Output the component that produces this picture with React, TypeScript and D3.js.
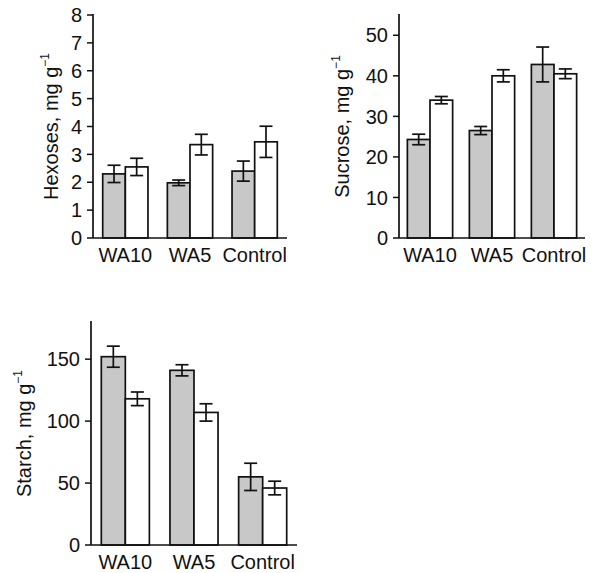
import React from 'react';
import * as d3 from 'd3';

const groups = ['WA10', 'WA5', 'Control'];
const series = ['gray', 'white'];

const hexMean = [[2.3, 2.55], [1.98, 3.35], [2.4, 3.45]];
const hexErr = [[0.31, 0.31], [0.1, 0.37], [0.36, 0.56]];

const sucMean = [[24.3, 34.0], [26.5, 40.0], [42.8, 40.5]];
const sucErr = [[1.3, 0.9], [1.0, 1.5], [4.3, 1.2]];

const staMean = [[152, 118], [141, 107], [55, 46]];
const staErr = [[8.5, 5.5], [4.5, 7], [11, 5.5]];

const hexTicks = [0, 1, 2, 3, 4, 5, 6, 7, 8];
const sucTicks = [0, 10, 20, 30, 40, 50];
const staTicks = [0, 50, 100, 150];

const fills = ['#c8c8c8', '#ffffff'];
const font = 'Liberation Sans, Arial, sans-serif';
const ink = '#111';

type PanelProps = {
  x0: number; x1: number; y0: number; y1: number;
  max: number; ticks: number[]; means: number[][]; errs: number[][];
  label: string; labelX: number; pad: number;
};

function Panel(p: PanelProps) {
  const y = d3.scaleLinear().domain([0, p.max]).range([p.y0, p.y1]);
  const x = d3.scaleBand().domain(groups).range([p.x0, p.x1]).paddingInner(p.pad).paddingOuter(p.pad / 2);
  const xs = d3.scaleBand().domain(series).range([0, x.bandwidth()]);
  const mid = (p.y0 + p.y1) / 2;
  return (
    <g fontFamily={font}>
      {groups.map((g, gi) => series.map((s, si) => {
        const m = p.means[gi][si];
        const e = p.errs[gi][si];
        const bx = (x(g) as number) + (xs(s) as number);
        const cx = bx + xs.bandwidth() / 2;
        return (
          <g key={g + s}>
            <rect x={bx} y={y(m)} width={xs.bandwidth()} height={p.y0 - y(m)}
              fill={fills[si]} stroke={ink} strokeWidth={1.7} />
            <line x1={cx} x2={cx} y1={y(m - e)} y2={y(m + e)} stroke={ink} strokeWidth={1.7} />
            <line x1={cx - 6.5} x2={cx + 6.5} y1={y(m - e)} y2={y(m - e)} stroke={ink} strokeWidth={1.7} />
            <line x1={cx - 6.5} x2={cx + 6.5} y1={y(m + e)} y2={y(m + e)} stroke={ink} strokeWidth={1.7} />
          </g>
        );
      }))}
      <line x1={p.x0} x2={p.x0} y1={p.y1 - 1} y2={p.y0} stroke={ink} strokeWidth={1.7} />
      <line x1={p.x0} x2={p.x1} y1={p.y0} y2={p.y0} stroke={ink} strokeWidth={1.7} />
      {p.ticks.map(t => (
        <g key={t}>
          <line x1={p.x0 - 6} x2={p.x0} y1={y(t)} y2={y(t)} stroke={ink} strokeWidth={1.5} />
          <text x={p.x0 - 11} y={y(t)} dy="0.36em" textAnchor="end" fontSize={20} fill={ink}>{t}</text>
        </g>
      ))}
      {groups.map(g => (
        <text key={g} x={(x(g) as number) + x.bandwidth() / 2} y={p.y0 + 24}
          textAnchor="middle" fontSize={20} fill={ink}>{g}</text>
      ))}
      <text transform={`translate(${p.labelX},${mid}) rotate(-90)`} textAnchor="middle" fontSize={20} fill={ink}>
        {p.label}
        <tspan fontSize={12} dy={-9}>−1</tspan>
      </text>
    </g>
  );
}

export default function App() {
  return (
    <svg width={598} height={573} style={{ position: 'absolute', left: 0, top: 0 }}>
      <rect width={598} height={573} fill="#fff" />
      <Panel x0={93} x1={287} y0={238} y1={15} max={8} ticks={hexTicks}
        means={hexMean} errs={hexErr} label="Hexoses, mg g" labelX={58} pad={0.3} />
      <Panel x0={399} x1={585} y0={238} y1={15} max={55} ticks={sucTicks}
        means={sucMean} errs={sucErr} label="Sucrose, mg g" labelX={349} pad={0.27} />
      <Panel x0={91} x1={297} y0={545} y1={322} max={180} ticks={staTicks}
        means={staMean} errs={staErr} label="Starch, mg g" labelX={31} pad={0.3} />
    </svg>
  );
}
